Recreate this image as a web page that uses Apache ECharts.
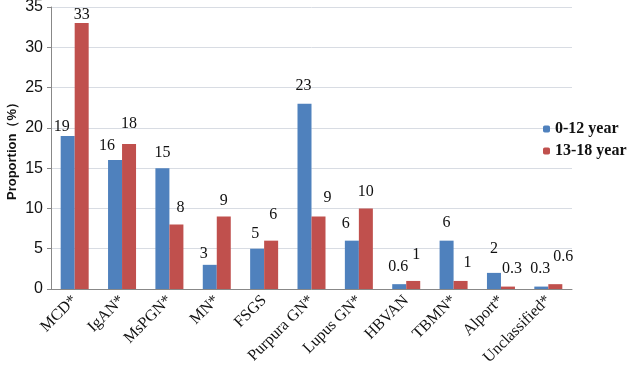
<!DOCTYPE html>
<html><head><meta charset="utf-8">
<script src="https://cdn.jsdelivr.net/npm/echarts@6/dist/echarts.min.js"></script>
<style>html,body{margin:0;padding:0;background:#fff}#c{width:629px;height:374px}</style>
</head><body><div id="c"></div>
<script>
const categories = ['MCD*','IgAN*','MsPGN*','MN*','FSGS','Purpura GN*','Lupus GN*','HBVAN','TBMN*','Alport*','Unclassified*'];
const young = [19,16,15,3,5,23,6,0.6,6,2,0.3];
const teen = [33,18,8,9,6,9,10,1,1,0.3,0.6];
const seriesNames = ['0-12 year','13-18 year'];
const yTicks = [0,5,10,15,20,25,30,35];

// label placement (style only): [dx, gap above bar]
const youngLabelPos = [[-6,4],[-8,9],[0,10],[-6,6],[-2,10],[-1,13],[-6,12],[-1,12],[0,13],[0,19],[-1,13]];
const teenLabelPos  = [[0,3],[0,15],[4,12],[0,11],[2,21],[9,14],[0,12],[3,21],[7,13],[4,13],[8,22]];

function items(vals, pos){
  return vals.map((v,i)=>({value:v, label:{offset:[pos[i][0], -(pos[i][1]-3)]}}));
}

const chart = echarts.init(document.getElementById('c'));
const lbl = {show:true, position:'top', fontFamily:'Liberation Serif', fontSize:16, color:'#111', distance:0};
chart.setOption({
  animation:false,
  grid:{left:51, top:7, right:57, bottom:85, containLabel:false, outerBoundsMode:'none'},
  legend:{orient:'vertical', left:543, top:121, itemWidth:7, itemHeight:7, itemGap:6, padding:0,
    textStyle:{fontFamily:'Liberation Serif', fontWeight:'bold', fontSize:16, color:'#111'},
    data:seriesNames},
  xAxis:{type:'category', data:categories,
    axisLine:{lineStyle:{color:'#888'}}, axisTick:{show:false},
    axisLabel:{interval:0, rotate:45, fontFamily:'Liberation Serif', fontSize:16, color:'#111', margin:9}},
  yAxis:{type:'value', min:0, max:35, interval:5,
    name:'Proportion（%）', nameLocation:'middle', nameGap:32, nameMoveOverlap:false,
    nameTextStyle:{fontFamily:'Liberation Sans', fontWeight:'bold', fontSize:13, color:'#111'},
    axisLine:{show:true, lineStyle:{color:'#888'}}, axisTick:{show:true, length:4, lineStyle:{color:'#888'}},
    axisLabel:{fontFamily:'Liberation Sans', fontSize:16, color:'#111', margin:8,
      formatter:v=>yTicks.includes(v)?String(v):''},
    splitLine:{lineStyle:{color:'#d8dce3'}}},
  series:[
    {name:seriesNames[0], type:'bar', data:items(young, youngLabelPos), barWidth:14, barGap:'0%', itemStyle:{color:'#4F81BD'}, label:lbl},
    {name:seriesNames[1], type:'bar', data:items(teen, teenLabelPos), barWidth:14, itemStyle:{color:'#C0504D'}, label:lbl}
  ]
});
</script></body></html>
